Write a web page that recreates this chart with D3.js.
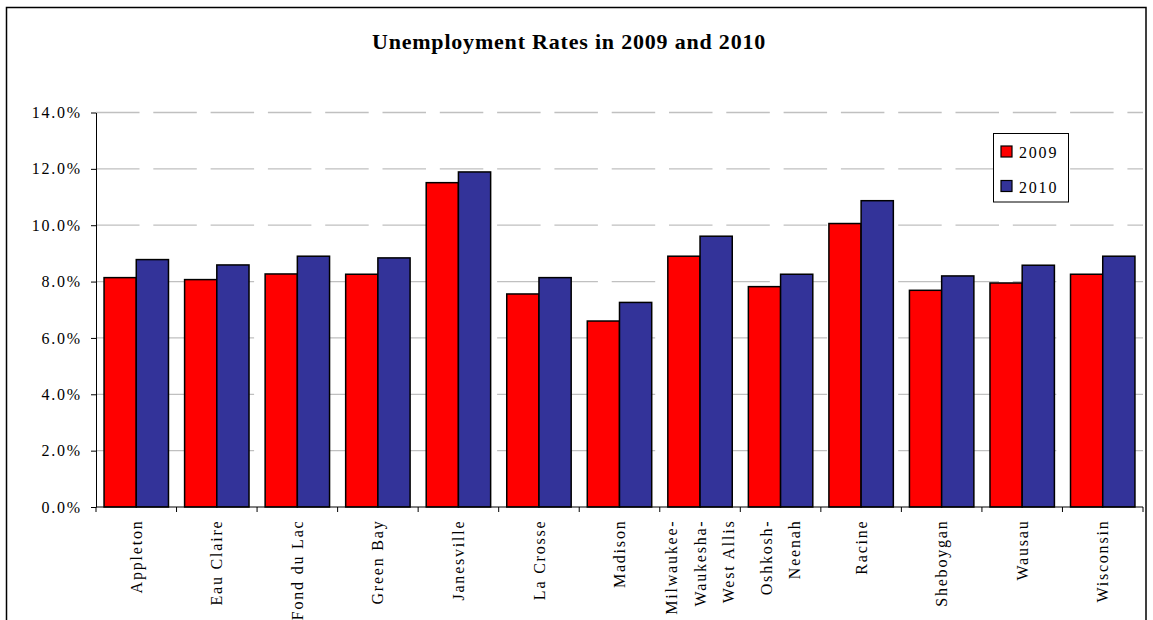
<!DOCTYPE html>
<html><head><meta charset="utf-8">
<script src="https://cdn.jsdelivr.net/npm/d3@7"></script>
<style>
body{margin:0;background:#fff;}
</style>
</head><body>
<svg id="chart" width="1153" height="620"></svg>
<script>
const categories = ["Appleton","Eau Claire","Fond du Lac","Green Bay","Janesville","La Crosse","Madison","Milwaukee-Waukesha-West Allis","Oshkosh-Neenah","Racine","Sheboygan","Wausau","Wisconsin"];
const categoryLabelLines = [["Appleton"],["Eau Claire"],["Fond du Lac"],["Green Bay"],["Janesville"],["La Crosse"],["Madison"],["Milwaukee-","Waukesha-","West Allis"],["Oshkosh-","Neenah"],["Racine"],["Sheboygan"],["Wausau"],["Wisconsin"]];
const seriesNames = ["2009","2010"];
const values2009 = [8.14, 8.07, 8.27, 8.26, 11.51, 7.56, 6.60, 8.90, 7.82, 10.06, 7.69, 7.95, 8.26];
const values2010 = [8.78, 8.59, 8.90, 8.84, 11.89, 8.14, 7.26, 9.61, 8.26, 10.87, 8.20, 8.58, 8.90];
const seriesColors = ["#FF0000","#333399"];
const yTicks = [0,2,4,6,8,10,12,14];
const titleText = "Unemployment Rates in 2009 and 2010";

const FONT = "Liberation Serif";
const svg = d3.select("#chart");
const plotLeft = 96, plotRight = 1143, plotTop = 112.5, plotBottom = 507;

// frame
svg.append("rect").attr("x",6.5).attr("y",7.5).attr("width",1139.5).attr("height",640)
  .attr("fill","#fff").attr("stroke","#000").attr("stroke-width",1.5);

// title
svg.append("text").attr("x",569).attr("y",49).attr("text-anchor","middle")
  .style("font-family",FONT).style("font-size","22px").style("font-weight","bold").style("letter-spacing","0.8px")
  .attr("fill","#000").text(titleText);

const x0 = d3.scaleBand().domain(categories).range([plotLeft,plotRight]).paddingInner(0.2).paddingOuter(0.1);
const x1 = d3.scaleBand().domain(seriesNames).range([0,x0.bandwidth()]);
const y = d3.scaleLinear().domain([0,14]).range([plotBottom,plotTop]);

// gridlines
svg.append("g").selectAll("line").data(yTicks.filter(d=>d>0)).join("line")
  .attr("x1",plotLeft).attr("x2",plotRight).attr("y1",d=>y(d)).attr("y2",d=>y(d))
  .attr("stroke","#c0c0c0").attr("stroke-width",1.3).attr("stroke-dasharray","43.5,13.8");

// bars
const data = categories.map((c,i)=>({cat:c, vals:[values2009[i], values2010[i]]}));
const groups = svg.append("g").selectAll("g").data(data).join("g")
  .attr("transform",d=>`translate(${x0(d.cat)},0)`);
groups.selectAll("rect").data(d=>d.vals.map((v,j)=>({s:seriesNames[j], v, j}))).join("rect")
  .attr("x",d=>x1(d.s)).attr("width",x1.bandwidth())
  .attr("y",d=>y(d.v)).attr("height",d=>y(0)-y(d.v))
  .attr("fill",d=>seriesColors[d.j]).attr("stroke","#000").attr("stroke-width",1.5);

// y axis
const yAxis = d3.axisLeft(y).tickValues(yTicks).tickFormat(d=>d.toFixed(1)+"%").tickSize(5).tickSizeOuter(0).tickPadding(9);
const gy = svg.append("g").attr("transform",`translate(${plotLeft},0)`).call(yAxis);
gy.attr("font-family",FONT).attr("font-size",16);
gy.selectAll("text").style("font-family",FONT).style("font-size","16px").style("letter-spacing","1.8px").attr("fill","#000");
gy.selectAll("line,path").attr("stroke","#000");

// x axis
const step = x0.step();
const boundaries = d3.range(categories.length+1).map(i=>plotLeft + i*step);
const gx = svg.append("g");
gx.append("line").attr("x1",plotLeft).attr("x2",plotRight).attr("y1",plotBottom).attr("y2",plotBottom).attr("stroke","#000");
gx.selectAll("line.tk").data(boundaries).join("line").attr("class","tk")
  .attr("x1",d=>d).attr("x2",d=>d).attr("y1",plotBottom).attr("y2",plotBottom+5).attr("stroke","#000");

// x labels
const lineGap = 28.5;
categories.forEach((c,i)=>{
  const cx = x0(c) + x0.bandwidth()/2;
  const lines = categoryLabelLines[i];
  lines.forEach((ln,k)=>{
    const px = cx + (k-(lines.length-1)/2)*lineGap;
    svg.append("text").attr("transform",`translate(${px},519.5) rotate(-90)`)
      .attr("text-anchor","end").attr("dy","0.35em").attr("fill","#000")
      .style("font-family",FONT).style("font-size","16px").style("letter-spacing","1.8px").text(ln);
  });
});

// legend
const lg = svg.append("g");
lg.append("rect").attr("x",993.5).attr("y",133.5).attr("width",75).attr("height",68.5)
  .attr("fill","#fff").attr("stroke","#000").attr("stroke-width",1);
seriesNames.forEach((s,j)=>{
  const yy = 146 + j*34.5;
  lg.append("rect").attr("x",1001).attr("y",yy).attr("width",11).attr("height",11)
    .attr("fill",seriesColors[j]).attr("stroke","#000").attr("stroke-width",1.2);
  lg.append("text").attr("x",1019).attr("y",yy+12).attr("fill","#000")
    .style("font-family",FONT).style("font-size","16px").style("letter-spacing","1.8px").text(s);
});
</script>
</body></html>
